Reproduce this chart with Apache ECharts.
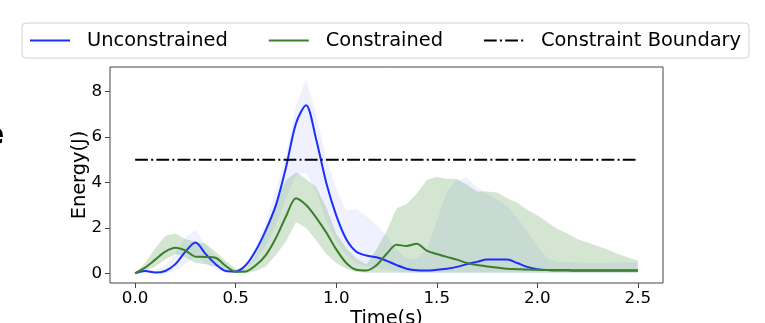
<!DOCTYPE html>
<html>
<head>
<meta charset="utf-8">
<script src="https://cdn.jsdelivr.net/npm/echarts@6/dist/echarts.min.js"></script>
<style>
html,body{margin:0;padding:0;background:#fff;}
#chart{width:765px;height:323px;}
</style>
</head>
<body>
<div id="chart"></div>
<script>
const times = [0,0.05,0.1,0.15,0.2,0.25,0.3,0.35,0.4,0.45,0.5,0.55,0.6,0.65,0.7,0.75,0.8,0.85,0.9,0.95,1.0,1.05,1.1,1.15,1.2,1.25,1.3,1.35,1.4,1.45,1.5,1.55,1.6,1.65,1.7,1.75,1.8,1.85,1.9,1.95,2.0,2.05,2.1,2.15,2.2,2.25,2.3,2.35,2.4,2.45,2.5];

const unconstrainedMean = [0,0.1,0.03,0.1,0.4,0.95,1.35,0.85,0.4,0.1,0.08,0.35,1.0,1.9,3.0,4.65,6.6,7.4,5.9,4.0,2.55,1.5,0.95,0.78,0.7,0.55,0.36,0.2,0.13,0.12,0.15,0.2,0.28,0.4,0.5,0.6,0.6,0.6,0.45,0.28,0.18,0.14,0.13,0.13,0.12,0.12,0.12,0.12,0.12,0.12,0.12];
const unconstrainedUpper = [0,0.15,0.12,0.35,0.9,1.6,1.9,1.3,0.7,0.3,0.15,0.4,1.15,2.3,3.65,5.2,7.4,8.55,7.0,5.1,3.7,2.75,2.85,2.5,2.15,1.65,1.05,0.65,0.6,1.0,2.3,3.6,4.1,4.2,3.8,3.5,3.25,2.95,2.45,1.85,1.2,0.65,0.5,0.48,0.47,0.46,0.46,0.46,0.47,0.47,0.48];
const unconstrainedLower = [0,0.05,0,0,0.1,0.4,0.75,0.45,0.15,0,0,0.15,0.6,1.2,2.1,3.3,4.3,4.45,3.6,2.3,1.4,0.8,0.45,0.3,0.25,0.15,0.08,0.04,0.03,0.03,0.03,0.03,0.03,0.03,0.03,0.03,0.03,0.03,0.03,0.03,0.03,0.03,0.03,0.03,0.03,0.03,0.03,0.03,0.03,0.03,0.03];

const constrainedMean = [0,0.25,0.6,0.95,1.12,1.0,0.73,0.72,0.68,0.33,0.07,0.08,0.35,0.8,1.55,2.5,3.3,3.0,2.45,1.8,1.05,0.45,0.15,0.12,0.35,0.85,1.25,1.2,1.3,1.0,0.85,0.72,0.6,0.45,0.36,0.3,0.25,0.2,0.18,0.16,0.15,0.14,0.13,0.13,0.12,0.12,0.12,0.12,0.12,0.12,0.12];
const constrainedUpper = [0,0.45,1.1,1.65,1.75,1.5,1.4,1.3,0.95,0.55,0.2,0.2,0.8,1.8,3.1,4.1,4.45,4.15,3.8,2.9,1.75,1.1,0.65,0.4,1.05,1.85,2.85,3.05,3.5,4.1,4.25,4.15,4.15,3.9,3.6,3.6,3.55,3.3,3.1,2.8,2.55,2.25,1.95,1.75,1.5,1.35,1.2,1.05,0.85,0.7,0.55];
const constrainedLower = [0,0.1,0.3,0.6,0.85,0.7,0.45,0.4,0.3,0.1,0,0,0.1,0.3,0.8,1.4,2.25,2.0,1.45,0.85,0.45,0.2,0.05,0.02,0.02,0.02,0.02,0.02,0.02,0.02,0.02,0.02,0.02,0.02,0.02,0.02,0.02,0.02,0.02,0.02,0.02,0.02,0.02,0.02,0.02,0.02,0.02,0.02,0.02,0.02,0.02];

const boundaryTimes = [0, 2.5];
const boundaryValues = [5, 5];

const xTicks = [0, 0.5, 1.0, 1.5, 2.0, 2.5];
const yTicks = [0, 2, 4, 6, 8];

const BLUE = '#1a2eff';
const GREEN = '#3b7f2c';
const FONT = 'DejaVu Sans';

const pairs = (xs, ys) => xs.map((x, i) => [x, ys[i]]);

function bandSeries(name, hi, lo, fill, z) {
  return {
    name: name, type: 'custom', silent: true, z: z, clip: true,
    data: times.map((t, i) => [t, lo[i], hi[i]]),
    encode: {x: 0, y: [1, 2]},
    renderItem: function (params, api) {
      if (params.dataIndex !== 0) return null;
      const pts = [];
      for (let i = 0; i < times.length; i++) pts.push(api.coord([times[i], hi[i]]));
      for (let i = times.length - 1; i >= 0; i--) pts.push(api.coord([times[i], lo[i]]));
      return {type: 'polygon', shape: {points: pts}, style: {fill: fill, stroke: null}};
    }
  };
}

const chart = echarts.init(document.getElementById('chart'), null, {renderer: 'canvas'});
const option = {
  animation: false,
  backgroundColor: '#fff',
  graphic: [
    {type: 'text', left: -16, top: 121, style: {text: 'e', font: 'bold 30px "DejaVu Sans"', fill: '#000'}, silent: true}
  ],
  grid: {left: 110, right: 102, top: 67, bottom: 40, show: true, borderColor: '#444', borderWidth: 1, backgroundColor: 'transparent', containLabel: false, outerBoundsMode: 'none'},
  legend: {
    data: ['Unconstrained', 'Constrained', 'Constraint Boundary'],
    left: 22, top: 23,
    padding: [8, 8, 8, 7],
    itemWidth: 40, itemHeight: 2, itemGap: 40,
    itemStyle: {opacity: 0},
    borderColor: '#d0d0d0', borderWidth: 1, borderRadius: 4,
    textStyle: {fontFamily: FONT, fontSize: 19.4, color: '#000', padding: [0, 0, 0, 12]}
  },
  xAxis: {
    type: 'value', min: -0.125, max: 2.625,
    name: 'Time(s)', nameLocation: 'middle', nameGap: 26, nameMoveOverlap: false,
    nameTextStyle: {fontFamily: FONT, fontSize: 19.4, color: '#000'},
    axisLine: {show: false, onZero: false},
    splitLine: {show: false},
    axisTick: {show: true, customValues: xTicks, length: 5, lineStyle: {color: '#444'}},
    axisLabel: {customValues: xTicks, fontFamily: FONT, fontSize: 16.7, color: '#000', margin: 7, formatter: v => v.toFixed(1)}
  },
  yAxis: {
    type: 'value', min: -0.43, max: 9.08,
    name: 'Energy(J)', nameLocation: 'middle', nameGap: 21, nameRotate: 90, nameMoveOverlap: false,
    nameTextStyle: {fontFamily: FONT, fontSize: 19.4, color: '#000'},
    axisLine: {show: false, onZero: false},
    splitLine: {show: false},
    axisTick: {show: true, customValues: yTicks, length: 5, lineStyle: {color: '#444'}},
    axisLabel: {customValues: yTicks, fontFamily: FONT, fontSize: 16.7, color: '#000', margin: 8, formatter: v => String(Math.round(v))}
  },
  series: [
    bandSeries('U-band', unconstrainedUpper, unconstrainedLower, 'rgba(40,50,255,0.07)', 1),
    bandSeries('C-band', constrainedUpper, constrainedLower, 'rgba(60,140,50,0.22)', 2),
    {name: 'Unconstrained', type: 'line', data: pairs(times, unconstrainedMean), symbol: 'none', smooth: 0.3, color: BLUE, lineStyle: {color: BLUE, width: 2}, z: 4},
    {name: 'Constrained', type: 'line', data: pairs(times, constrainedMean), symbol: 'none', smooth: 0.3, color: GREEN, lineStyle: {color: GREEN, width: 2}, z: 4},
    {name: 'Constraint Boundary', type: 'line', data: pairs(boundaryTimes, boundaryValues), symbol: 'none', color: '#000', lineStyle: {color: '#000', width: 2, type: [12.8, 3.2, 2, 3.2]}, z: 5}
  ]
};
chart.setOption(option);
</script>
</body>
</html>
